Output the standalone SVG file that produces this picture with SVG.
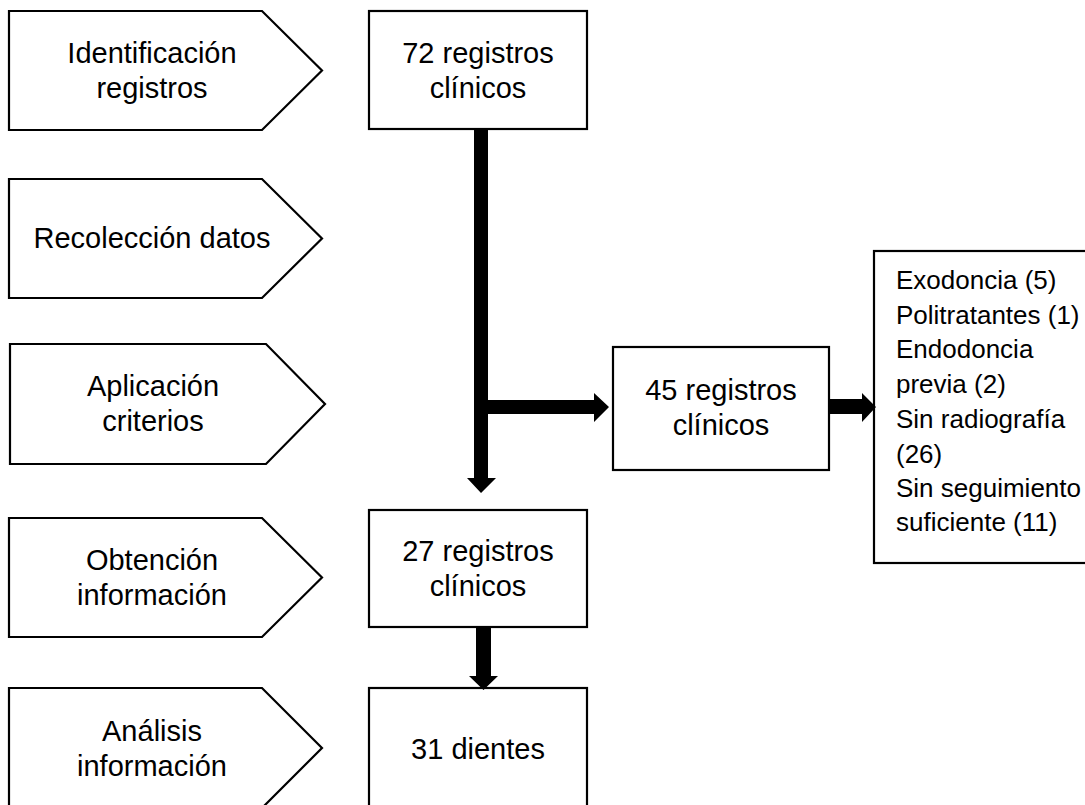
<svg xmlns="http://www.w3.org/2000/svg" width="1085" height="805" viewBox="0 0 1085 805">
<style>
.sh{fill:#fff;stroke:#000;stroke-width:2.2}
.t{font-family:"Liberation Sans",Arial,sans-serif;font-size:29px;fill:#000;text-anchor:middle}
.r{font-family:"Liberation Sans",Arial,sans-serif;font-size:26px;fill:#000}
.ar{fill:#000;stroke:none}
</style>
<rect width="1085" height="805" fill="#fff"/>
<g id="step-identificacion">
<polygon class="sh" points="9,11 262,11 322,70.5 262,130 9,130"/>
<text class="t" x="152" y="63">Identificación</text>
<text class="t" x="152" y="98">registros</text>
</g>
<g id="step-recoleccion">
<polygon class="sh" points="9,179 262,179 322,238.5 262,298 9,298"/>
<text class="t" x="152" y="248">Recolección datos</text>
</g>
<g id="step-aplicacion">
<polygon class="sh" points="10,344 266,344 325,404 266,464 10,464"/>
<text class="t" x="153" y="396">Aplicación</text>
<text class="t" x="153" y="431">criterios</text>
</g>
<g id="step-obtencion">
<polygon class="sh" points="9,518 262,518 322,577.5 262,637 9,637"/>
<text class="t" x="152" y="570">Obtención</text>
<text class="t" x="152" y="605">información</text>
</g>
<g id="step-analisis">
<polygon class="sh" points="9,688 262,688 322,748 262,808 9,808"/>
<text class="t" x="152" y="741">Análisis</text>
<text class="t" x="152" y="776">información</text>
</g>
<g id="box-72">
<rect class="sh" x="369" y="11" width="218" height="118"/>
<text class="t" x="478" y="63">72 registros</text>
<text class="t" x="478" y="98">clínicos</text>
</g>
<g id="box-45">
<rect class="sh" x="613" y="347" width="216" height="123"/>
<text class="t" x="721" y="400">45 registros</text>
<text class="t" x="721" y="435">clínicos</text>
</g>
<g id="box-27">
<rect class="sh" x="369" y="510" width="218" height="117"/>
<text class="t" x="478" y="561">27 registros</text>
<text class="t" x="478" y="596">clínicos</text>
</g>
<g id="box-31">
<rect class="sh" x="369" y="688" width="218" height="120"/>
<text class="t" x="478" y="759">31 dientes</text>
</g>
<g id="box-exclusiones">
<rect class="sh" x="874" y="251" width="230" height="312"/>
<text class="r" x="896" y="289">Exodoncia (5)</text>
<text class="r" x="896" y="324">Politratantes (1)</text>
<text class="r" x="896" y="358">Endodoncia</text>
<text class="r" x="896" y="393">previa (2)</text>
<text class="r" x="896" y="428">Sin radiografía</text>
<text class="r" x="896" y="463">(26)</text>
<text class="r" x="896" y="497">Sin seguimiento</text>
<text class="r" x="896" y="531">suficiente (11)</text>
</g>
<g id="connectors">
<polygon class="ar" points="474,130 488,130 488,478 496,478 481,493 467,478 474,478"/>
<polygon class="ar" points="488,400 594,400 594,393 609,407 594,422 594,414 488,414"/>
<polygon class="ar" points="829,399 862,399 862,393 876,407 862,422 862,414 829,414"/>
<polygon class="ar" points="476,628 491,628 491,676 498,676 483.5,690 469,676 476,676"/>
</g>
</svg>
